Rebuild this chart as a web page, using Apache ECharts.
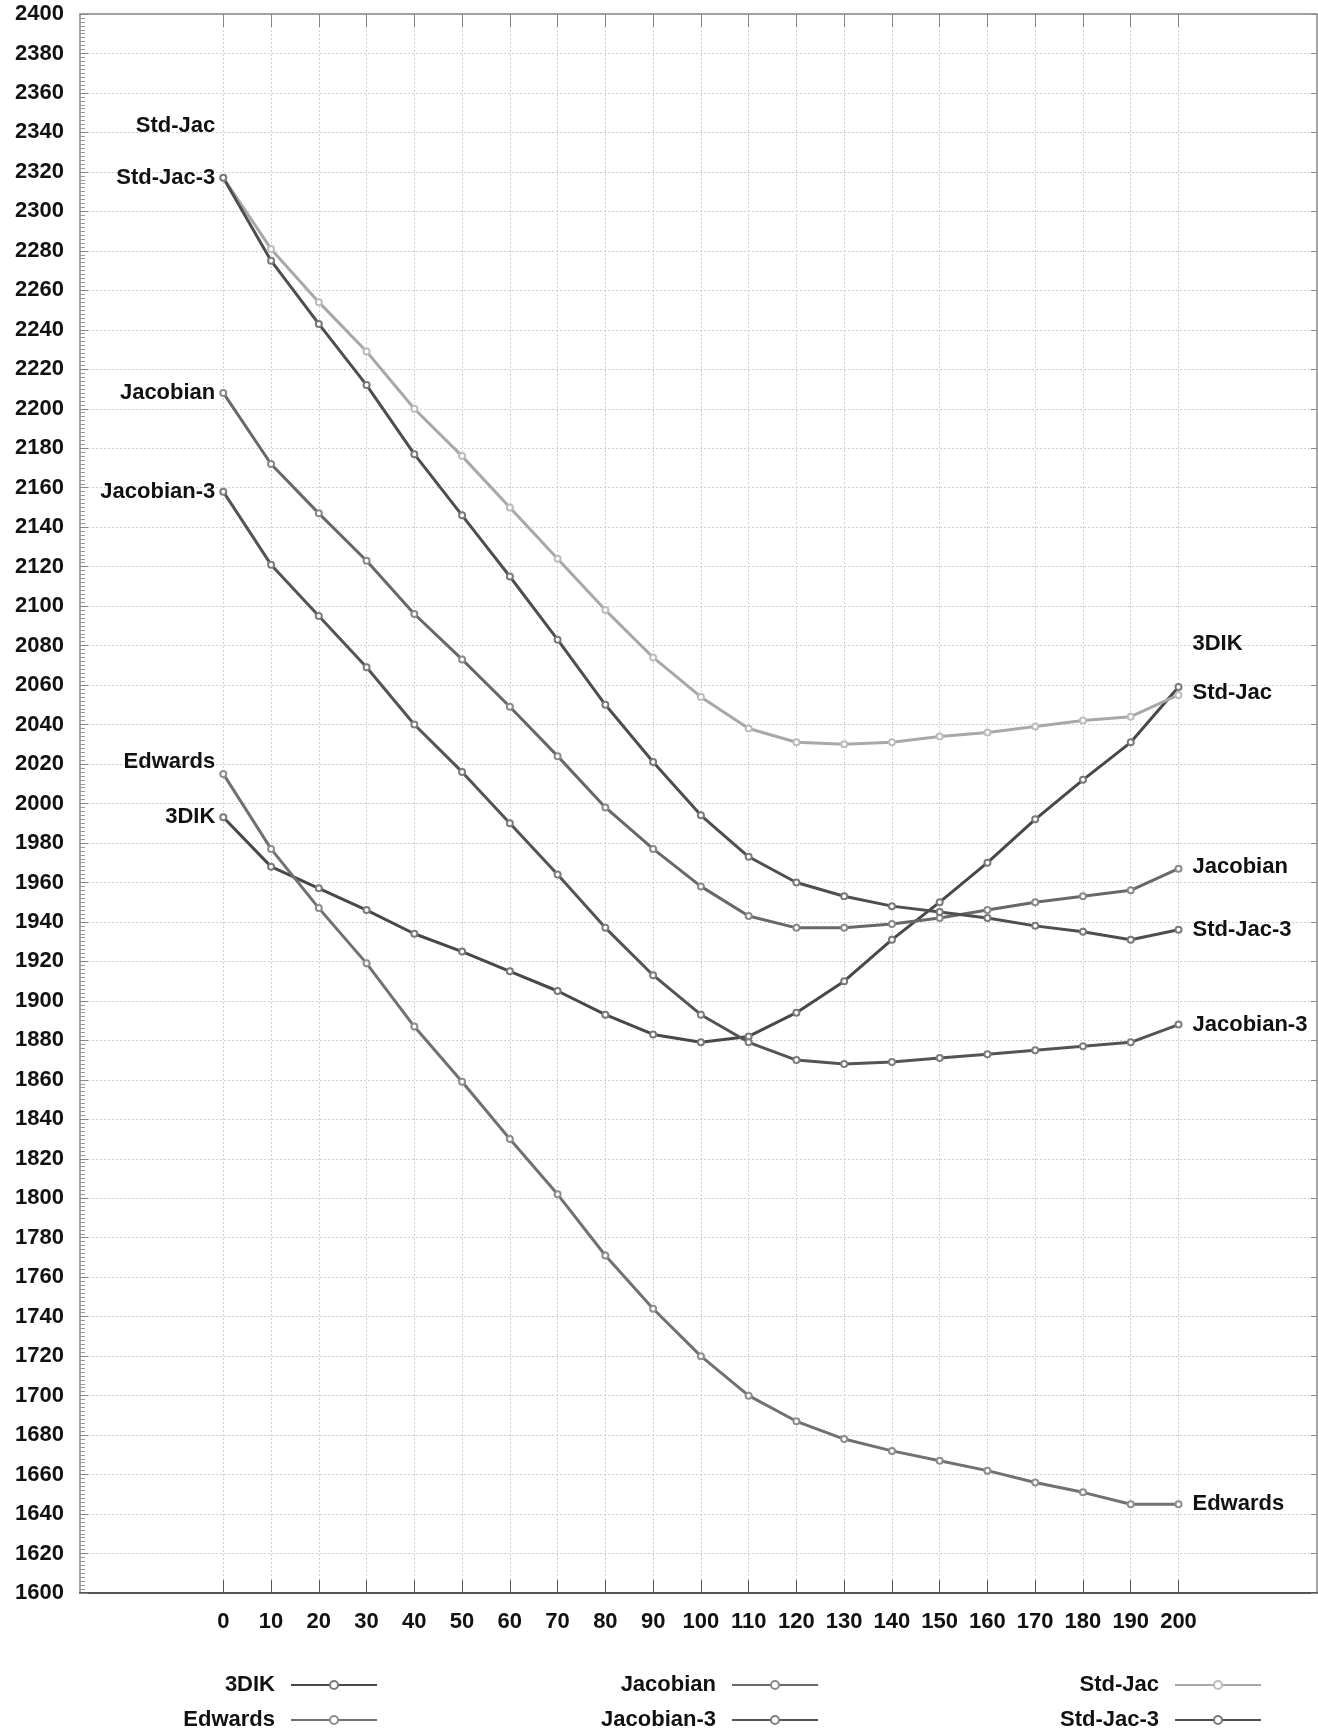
<!DOCTYPE html>
<html>
<head>
<meta charset="utf-8">
<script src="https://cdn.jsdelivr.net/npm/echarts@6/dist/echarts.min.js"></script>
<style>html,body{margin:0;padding:0;background:#fff}#chart{width:1318px;height:1730px}</style>
</head>
<body>
<div id="chart"></div>
<script>
const xValues = [0,10,20,30,40,50,60,70,80,90,100,110,120,130,140,150,160,170,180,190,200];
const xTickLabels = [0,10,20,30,40,50,60,70,80,90,100,110,120,130,140,150,160,170,180,190,200];

const dik3 = [1993,1968,1957,1946,1934,1925,1915,1905,1893,1883,1879,1882,1894,1910,1931,1950,1970,1992,2012,2031,2059];
const edwards = [2015,1977,1947,1919,1887,1859,1830,1802,1771,1744,1720,1700,1687,1678,1672,1667,1662,1656,1651,1645,1645];
const jacobian = [2208,2172,2147,2123,2096,2073,2049,2024,1998,1977,1958,1943,1937,1937,1939,1942,1946,1950,1953,1956,1967];
const jacobian3 = [2158,2121,2095,2069,2040,2016,1990,1964,1937,1913,1893,1879,1870,1868,1869,1871,1873,1875,1877,1879,1888];
const stdJac = [2317,2281,2254,2229,2200,2176,2150,2124,2098,2074,2054,2038,2031,2030,2031,2034,2036,2039,2042,2044,2055];
const stdJac3 = [2317,2275,2243,2212,2177,2146,2115,2083,2050,2021,1994,1973,1960,1953,1948,1945,1942,1938,1935,1931,1936];

const seriesNames = ['3DIK','Edwards','Jacobian','Jacobian-3','Std-Jac','Std-Jac-3'];
const seriesValues = [dik3, edwards, jacobian, jacobian3, stdJac, stdJac3];
const seriesColors = ['#484848','#717171','#686868','#545454','#a8a8a8','#4e4e4e'];
const symbolColors = ['#7a7a7a','#8e8e8e','#8a8a8a','#7e7e7e','#bdbdbd','#7a7a7a'];
// label vertical offsets [start, end] (collision avoidance as in the reference)
const labelShift = [[0,-43],[-12,0],[0,-2],[0,0],[-52,-2],[0,0]];

const FONT = 'Liberation Sans, Arial, sans-serif';
const labelFont = {fontFamily: FONT, fontWeight: 'bold', fontSize: 22, color: '#111'};

const series = seriesNames.map((name, i) => {
  const vals = seriesValues[i];
  const data = vals.map((v, k) => {
    const item = {value: [xValues[k], v]};
    if (k === 0) {
      item.label = Object.assign({show: true, position: 'left', distance: 4, offset: [0, labelShift[i][0]], formatter: name}, labelFont);
    } else if (k === vals.length - 1) {
      item.label = Object.assign({show: true, position: 'right', distance: 10, offset: [0, labelShift[i][1]], formatter: name}, labelFont);
    }
    return item;
  });
  return {
    name: name,
    type: 'line',
    data: data,
    symbol: 'emptyCircle',
    symbolSize: 6,
    showAllSymbol: true,
    lineStyle: {color: seriesColors[i], width: 3},
    itemStyle: {color: symbolColors[i], borderWidth: 1},
    emphasis: {disabled: true},
    z: 3
  };
});

const legendCols = [[0,1],[2,3],[4,5]];
const legendRight = [378, 819, 1262];
const legendRowCenter = [1685, 1720];
const legends = [];
legendCols.forEach((col, c) => {
  col.forEach((si, r) => {
    legends.push({
      data: [seriesNames[si]],
      orient: 'horizontal',
      align: 'right',
      right: 1318 - legendRight[c],
      top: legendRowCenter[r] - 11,
      padding: 0,
      itemWidth: 86,
      itemHeight: 10,
      selectedMode: false,
      textStyle: {fontFamily: FONT, fontWeight: 'bold', fontSize: 22, color: '#111', padding: [0, 11, 0, 0]}
    });
  });
});

const plainNum = v => String(v);

const chart = echarts.init(document.getElementById('chart'), null, {renderer: 'canvas'});
chart.setOption({
  animation: false,
  backgroundColor: '#fff',
  grid: {left: 80, top: 14, right: 1, bottom: 137, containLabel: false},
  legend: legends,
  xAxis: [{
    type: 'value', min: -30, max: 229, position: 'bottom',
    axisLine: {show: true, onZero: false, lineStyle: {color: '#555', width: 2}},
    axisTick: {show: true, inside: true, length: 13, customValues: xTickLabels, lineStyle: {color: '#555'}},
    axisLabel: {show: true, customValues: xTickLabels, formatter: plainNum, margin: 18, fontFamily: FONT, fontWeight: 'bold', fontSize: 22, color: '#111'},
    splitLine: {show: true, lineStyle: {color: '#cfcfcf', type: [2, 2], width: 1}}
  }, {
    type: 'value', min: -30, max: 229, position: 'top',
    axisLine: {show: true, onZero: false, lineStyle: {color: '#888', width: 1.5}},
    axisTick: {show: true, inside: true, length: 13, customValues: xTickLabels, lineStyle: {color: '#888'}},
    axisLabel: {show: false},
    splitLine: {show: false}
  }],
  yAxis: [{
    type: 'value', min: 1600, max: 2400, interval: 20, position: 'left',
    axisLine: {show: true, onZero: false, lineStyle: {color: '#888', width: 1.5}},
    axisTick: {show: true, inside: true, length: 8, lineStyle: {color: '#888'}},
    minorTick: {show: true, splitNumber: 10, length: 5, lineStyle: {color: '#999'}},
    axisLabel: {show: true, formatter: plainNum, margin: 16, fontFamily: FONT, fontWeight: 'bold', fontSize: 22, color: '#111'},
    splitLine: {show: true, lineStyle: {color: '#cfcfcf', type: [2, 2], width: 1}}
  }, {
    type: 'value', min: 1600, max: 2400, interval: 20, position: 'right',
    axisLine: {show: true, onZero: false, lineStyle: {color: '#888', width: 1.5}},
    axisTick: {show: true, inside: true, length: 6, lineStyle: {color: '#888'}},
    axisLabel: {show: false},
    splitLine: {show: false}
  }],
  series: series
});
</script>
</body>
</html>
